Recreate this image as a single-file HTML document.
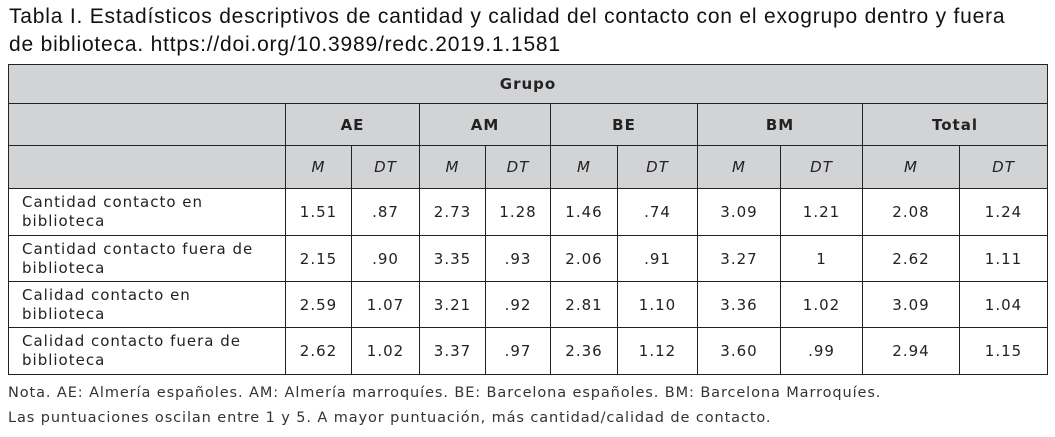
<!DOCTYPE html>
<html><head><meta charset="utf-8">
<style>
body{margin:0;width:1055px;height:437px;background:#fff;overflow:hidden;position:relative;font-family:"DejaVu Sans",Verdana,sans-serif;color:#222}
.title{position:absolute;left:9px;top:3px;font-family:"Liberation Sans",sans-serif;font-size:21px;line-height:28px;color:#111;letter-spacing:0.8px;white-space:nowrap}
table{position:absolute;left:8px;top:64px;border-collapse:collapse;table-layout:fixed;font-size:15px;letter-spacing:1px}
td{border:1.5px solid #222;text-align:center;padding:0;overflow:hidden;white-space:nowrap}
.h{background:#d2d3d5}
.b{font-weight:bold}
.i{font-style:italic}
.lab{text-align:left;padding-left:13px;line-height:19px}
.note{position:absolute;left:8px;font-size:14.5px;letter-spacing:0.9px;color:#333;white-space:nowrap}
</style></head><body>
<div class="title">Tabla I. Estadísticos descriptivos de cantidad y calidad del contacto con el exogrupo dentro y fuera<br>de biblioteca. https://doi.org/10.3989/redc.2019.1.1581</div>
<table>
<colgroup><col style="width:277px"><col style="width:66px"><col style="width:68px"><col style="width:66px"><col style="width:65px"><col style="width:67px"><col style="width:80px"><col style="width:83px"><col style="width:82px"><col style="width:97px"><col style="width:88px"></colgroup>
<tr style="height:39px"><td class="h b" colspan="11">Grupo</td></tr>
<tr style="height:42px"><td class="h"></td><td class="h b" colspan="2">AE</td><td class="h b" colspan="2">AM</td><td class="h b" colspan="2">BE</td><td class="h b" colspan="2">BM</td><td class="h b" colspan="2">Total</td></tr>
<tr style="height:43px"><td class="h"></td><td class="h i">M</td><td class="h i">DT</td><td class="h i">M</td><td class="h i">DT</td><td class="h i">M</td><td class="h i">DT</td><td class="h i">M</td><td class="h i">DT</td><td class="h i">M</td><td class="h i">DT</td></tr>
<tr style="height:47px"><td class="lab">Cantidad contacto en<br>biblioteca</td><td>1.51</td><td>.87</td><td>2.73</td><td>1.28</td><td>1.46</td><td>.74</td><td>3.09</td><td>1.21</td><td>2.08</td><td>1.24</td></tr>
<tr style="height:46px"><td class="lab">Cantidad contacto fuera de<br>biblioteca</td><td>2.15</td><td>.90</td><td>3.35</td><td>.93</td><td>2.06</td><td>.91</td><td>3.27</td><td>1</td><td>2.62</td><td>1.11</td></tr>
<tr style="height:46px"><td class="lab">Calidad contacto en<br>biblioteca</td><td>2.59</td><td>1.07</td><td>3.21</td><td>.92</td><td>2.81</td><td>1.10</td><td>3.36</td><td>1.02</td><td>3.09</td><td>1.04</td></tr>
<tr style="height:47px"><td class="lab">Calidad contacto fuera de<br>biblioteca</td><td>2.62</td><td>1.02</td><td>3.37</td><td>.97</td><td>2.36</td><td>1.12</td><td>3.60</td><td>.99</td><td>2.94</td><td>1.15</td></tr>
</table>
<div class="note" style="top:385px">Nota. AE: Almería españoles. AM: Almería marroquíes. BE: Barcelona españoles. BM: Barcelona Marroquíes.</div>
<div class="note" style="top:410px">Las puntuaciones oscilan entre 1 y 5. A mayor puntuación, más cantidad/calidad de contacto.</div>
</body></html>
